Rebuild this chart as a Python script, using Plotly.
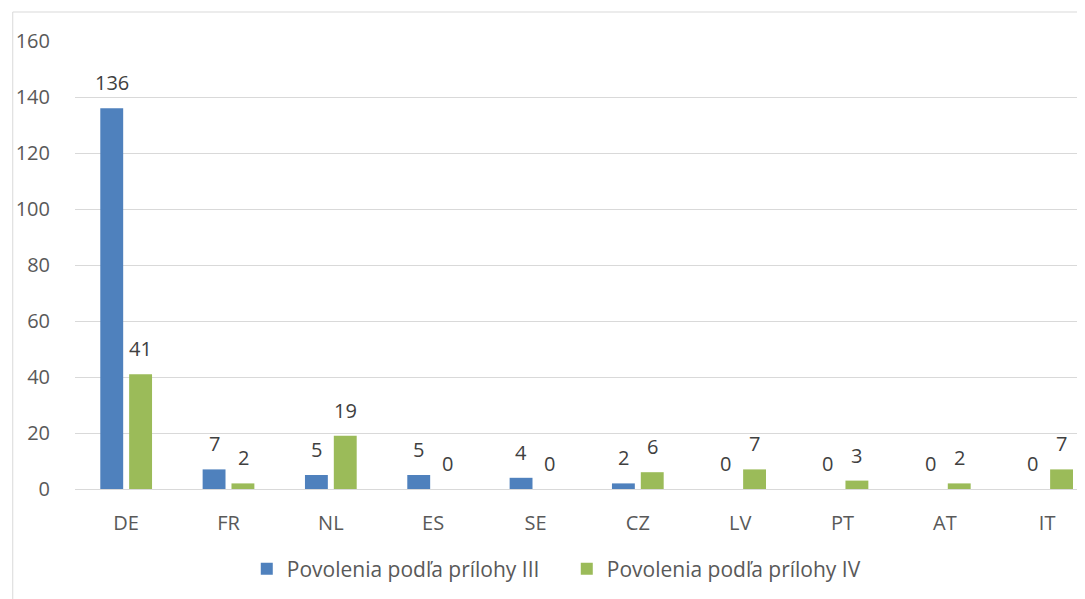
import plotly.graph_objects as go

categories = ["DE", "FR", "NL", "ES", "SE", "CZ", "LV", "PT", "AT", "IT"]
annex3 = [136, 7, 5, 5, 4, 2, 0, 0, 0, 0]
annex4 = [41, 2, 19, 0, 0, 6, 7, 3, 2, 7]
series_names = ["Povolenia podľa prílohy III", "Povolenia podľa prílohy IV"]
colors = ["#4F81BD", "#9BBB59"]
yticks = [0, 20, 40, 60, 80, 100, 120, 140, 160]

FONT = "Open Sans"
fig = go.Figure()
for name, vals, col in zip(series_names, [annex3, annex4], colors):
    fig.add_trace(go.Bar(x=categories, y=vals, name=name, marker_color=col,
                         marker_line_width=0))

annotations = []
for vals, shift in [(annex3, -14.5), (annex4, 14.5)]:
    for c, v in zip(categories, vals):
        annotations.append(dict(x=c, y=v, text=str(v), xref="x", yref="y",
                                showarrow=False, yanchor="bottom", xshift=shift,
                                yshift=10, font=dict(family=FONT, size=20, color="#404040")))

fig.update_layout(
    width=1085, height=599,
    margin=dict(l=63, r=8, t=33, b=118),
    paper_bgcolor="white", plot_bgcolor="white",
    barmode="group", bargap=0.436, bargroupgap=0.207,
    font=dict(family=FONT, size=20, color="#595959"),
    legend=dict(orientation="h", x=0.515, xref="container", xanchor="center",
                y=38/599, yref="container", yanchor="middle",
                font=dict(family=FONT, size=21, color="#595959"),
                itemwidth=30, entrywidth=275, traceorder="normal"),
    annotations=annotations,
    shapes=[dict(type="rect", xref="paper", yref="paper",
                 x0=-62.5/1014, x1=1.2, y0=-1.0, y1=1 + 29/448,
                 line=dict(color="#D9D9D9", width=1), layer="below")],
    xaxis=dict(range=[-0.5, 9.37], showgrid=False, showline=True,
               linecolor="#D9D9D9", linewidth=1, ticks="outside", ticklen=16,
               tickcolor="rgba(0,0,0,0)", tickfont=dict(size=20, color="#595959")),
    yaxis=dict(range=[0, 160], tickvals=yticks, showgrid=True, gridcolor="#D9D9D9",
               gridwidth=1, zeroline=False, showline=False, ticks="outside",
               ticklen=20, tickcolor="rgba(0,0,0,0)",
               tickfont=dict(size=20, color="#595959")),
)

fig.write_html("out.html")
